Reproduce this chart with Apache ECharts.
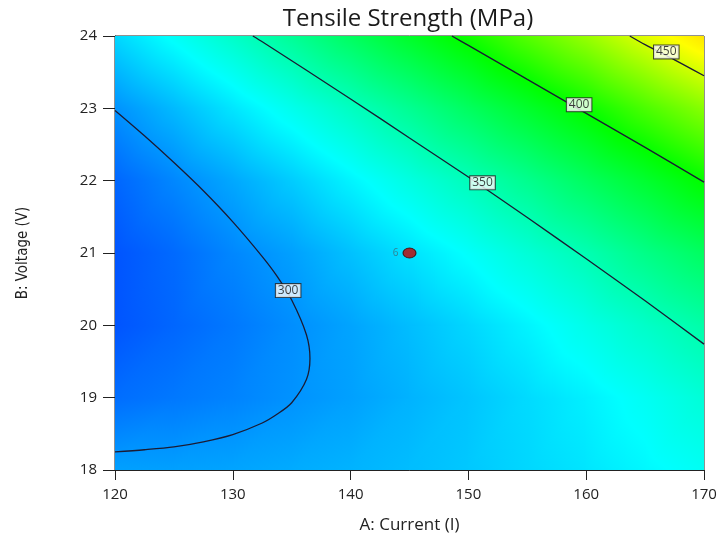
<!DOCTYPE html>
<html>
<head>
<meta charset="utf-8">
<script src="https://cdn.jsdelivr.net/npm/echarts@6/dist/echarts.min.js"></script>
<style>
html, body { margin: 0; padding: 0; background: #fff; }
#chart { width: 720px; height: 535px; }
</style>
</head>
<body>
<div id="chart"></div>
<script>
const currentNodes = [120, 125, 130, 135, 140, 145, 150, 155, 160, 165, 170];
const voltageNodes = [18, 19, 20, 21, 22, 23, 24];
// tensile strength (MPa) read at each node, one row per voltage (18 V first)
const strengthRows = [
    [304, 304, 305, 307, 309, 312, 315, 319, 323, 328, 333],
    [290, 293, 296, 300, 304, 309, 314, 320, 326, 333, 341],
    [283, 288, 293, 299, 305, 312, 319, 327, 336, 345, 354],
    [283, 289, 297, 304, 313, 322, 331, 341, 351, 363, 374],
    [288, 297, 306, 316, 327, 338, 349, 361, 374, 387, 401],
    [300, 311, 323, 335, 347, 360, 374, 388, 402, 418, 433],
    [319, 332, 345, 359, 374, 389, 404, 421, 437, 455, 472],
];
const contour300 = [
    [120, 18.25], [122.5, 18.28], [125, 18.32], [127.5, 18.39], [130, 18.49], [132.5, 18.65],
    [133.75, 18.77], [135, 18.93], [136.25, 19.25], [136.55, 19.54], [136.25, 19.87], [135, 20.35],
    [133.75, 20.68], [132.5, 20.95], [130, 21.43], [127.5, 21.86], [125, 22.25], [122.5, 22.62], [120, 22.97],
];
const contour350 = [[131.7, 24], [132.5, 23.92], [140, 23.13], [145, 22.59], [150, 22.05], [155, 21.49], [160, 20.92], [165, 20.34], [170, 19.74]];
const contour400 = [[148.6, 24], [150, 23.87], [155, 23.4], [160, 22.93], [165, 22.46], [170, 21.98]];
const contour450 = [[163.7, 24], [165, 23.88], [167.5, 23.67], [170, 23.45]];
const contourLabels = [[134.7, 20.48, '300'], [151.2, 21.97, '350'], [159.4, 23.05, '400'], [166.8, 23.78, '450']];
const designPoints = [[145, 21, '6']];

// blue -> cyan -> green -> yellow -> red
const colorScale = [[260, [0, 0, 255]], [330, [0, 255, 255]], [400, [0, 255, 0]], [462, [255, 255, 0]], [560, [255, 0, 0]]];

const colorAt = v => {
    if (v <= colorScale[0][0]) v = colorScale[0][0];
    for (let k = 1; k < colorScale.length; k++) {
        const [v0, c0] = colorScale[k - 1];
        const [v1, c1] = colorScale[k];
        if (v <= v1) {
            const t = (v - v0) / (v1 - v0);
            return 'rgb(' + c0.map((c, n) => Math.round(c + (c1[n] - c) * t)).join(',') + ')';
        }
    }
    return 'rgb(255,0,0)';
};

const triangleFill = (a, b, c) => {
    const d1x = b.p[0] - a.p[0], d1y = b.p[1] - a.p[1];
    const d2x = c.p[0] - a.p[0], d2y = c.p[1] - a.p[1];
    const dv1 = b.v - a.v, dv2 = c.v - a.v;
    const det = d1x * d2y - d1y * d2x;
    const lo = Math.min(a.v, b.v, c.v), hi = Math.max(a.v, b.v, c.v);
    if (Math.abs(det) < 1e-9 || hi - lo < 1e-6) return colorAt(lo);
    const gx = (dv1 * d2y - d1y * dv2) / det;
    const gy = (d1x * dv2 - dv1 * d2x) / det;
    const g2 = gx * gx + gy * gy;
    const x0 = a.p[0] + gx * (lo - a.v) / g2, y0 = a.p[1] + gy * (lo - a.v) / g2;
    const x1 = a.p[0] + gx * (hi - a.v) / g2, y1 = a.p[1] + gy * (hi - a.v) / g2;
    const stops = [{ offset: 0, color: colorAt(lo) }];
    colorScale.forEach(([v]) => {
        if (v > lo && v < hi) stops.push({ offset: (v - lo) / (hi - lo), color: colorAt(v) });
    });
    stops.push({ offset: 1, color: colorAt(hi) });
    return new echarts.graphic.LinearGradient(x0, y0, x1, y1, stops, true);
};

const triangle = (a, b, c) => {
    const fill = triangleFill(a, b, c);
    return { type: 'polygon', shape: { points: [a.p, b.p, c.p] }, style: { fill, stroke: fill, lineWidth: 1.6 } };
};

const renderCell = (params, api) => {
    const i = api.value(2), j = api.value(3);
    const node = (di, dj) => ({
        p: api.coord([currentNodes[i + di], voltageNodes[j + dj]]),
        v: strengthRows[j + dj][i + di],
    });
    const c00 = node(0, 0), c10 = node(1, 0), c01 = node(0, 1), c11 = node(1, 1);
    return { type: 'group', children: [triangle(c00, c10, c11), triangle(c00, c11, c01)] };
};

const cells = [];
for (let j = 0; j < voltageNodes.length - 1; j++) {
    for (let i = 0; i < currentNodes.length - 1; i++) {
        cells.push([currentNodes[i], voltageNodes[j], i, j]);
    }
}

const contourLine = data => ({
    type: 'line', data, smooth: 0.3, symbol: 'none', z: 3, silent: true,
    lineStyle: { color: '#1b1b33', width: 1.3 },
});

const font = '"Open Sans", "Noto Sans", sans-serif';
const chart = echarts.init(document.getElementById('chart'));
chart.setOption({
    animation: false,
    graphic: [{
        type: 'text', x: 408, y: 7,
        style: { text: 'Tensile Strength (MPa)', textAlign: 'center', fontSize: 24, fontFamily: font, fill: '#1a1a1a' },
    }],
    grid: {
        left: 115, right: 16, top: 36, bottom: 65, containLabel: false, outerBoundsMode: 'none',
        show: true, borderColor: '#222', borderWidth: 1, backgroundColor: 'transparent',
    },
    xAxis: {
        type: 'value', min: 120, max: 170, interval: 10,
        name: 'A: Current (I)', nameLocation: 'middle', nameGap: 47,
        nameTextStyle: { fontSize: 17, color: '#222', fontFamily: font },
        axisLine: { show: true, lineStyle: { color: '#222', width: 1 } },
        axisTick: { show: true, length: 10, lineStyle: { color: '#222' } },
        axisLabel: { fontSize: 15, color: '#222', margin: 17, fontFamily: font },
        splitLine: { show: false },
    },
    yAxis: {
        type: 'value', min: 18, max: 24, interval: 1,
        name: 'B: Voltage (V)', nameLocation: 'middle', nameGap: 84,
        nameTextStyle: { fontSize: 15, color: '#222', fontFamily: '"Liberation Sans Narrow", "DejaVu Sans Condensed", sans-serif' },
        axisLine: { show: true, lineStyle: { color: '#222', width: 1 } },
        axisTick: { show: true, length: 12, lineStyle: { color: '#222' } },
        axisLabel: { fontSize: 15, color: '#222', margin: 18, fontFamily: font },
        splitLine: { show: false },
    },
    series: [
        { type: 'custom', renderItem: renderCell, data: cells, clip: true, z: 1, silent: true },
        contourLine(contour300),
        contourLine(contour350),
        contourLine(contour400),
        contourLine(contour450),
        {
            type: 'scatter', data: contourLabels, symbolSize: 1, z: 5, silent: true,
            itemStyle: { color: 'transparent' },
            label: {
                show: true, position: 'inside', formatter: p => p.data[2],
                fontSize: 12, color: '#111', fontFamily: font,
                backgroundColor: '#fff', borderColor: '#222', borderWidth: 1, padding: [1, 2, 0, 2], lineHeight: 12,
            },
        },
        {
            type: 'scatter', data: designPoints, symbol: 'circle', symbolSize: [13, 10], z: 6, silent: true,
            itemStyle: { color: '#c80000', borderColor: '#3a0000', borderWidth: 1 },
            label: { show: true, position: 'left', distance: 4, formatter: p => p.data[2], fontSize: 10, color: '#3d6b78', fontFamily: font },
        },
    ],
});
</script>
</body>
</html>
